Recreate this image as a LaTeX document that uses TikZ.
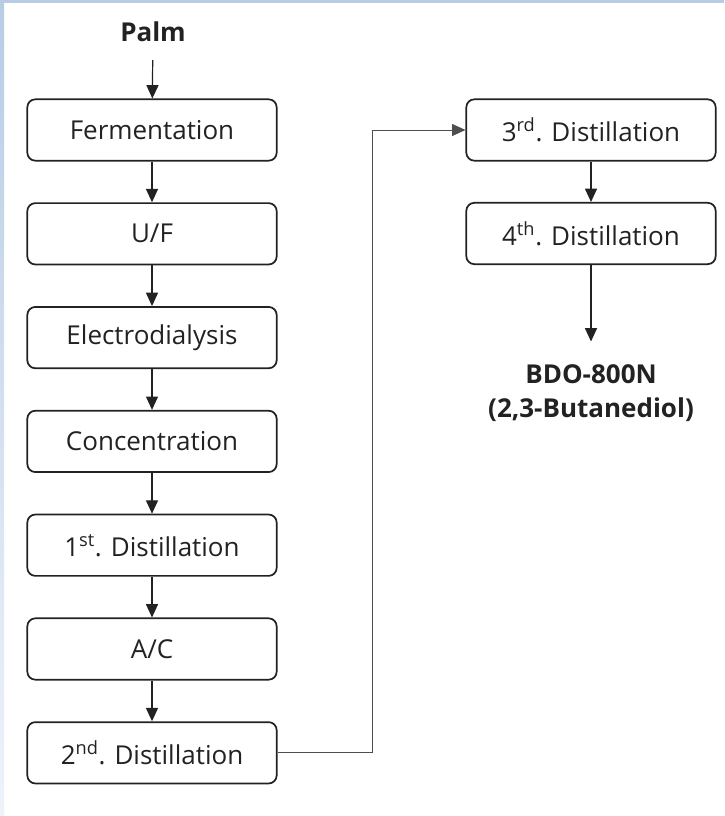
\documentclass[tikz,border=0pt]{standalone}
\usepackage{xcolor}
\usepackage{fontspec}
\setmainfont{Open Sans}
\usetikzlibrary{arrows.meta}
\definecolor{frameblue}{HTML}{B8CCE6}
\definecolor{framefade}{HTML}{EEF3FA}
\definecolor{ink}{HTML}{222222}

\begin{document}
\begin{tikzpicture}[x=0.75pt, y=-0.75pt,
    stage/.style={draw=ink, line width=1.3pt, rounded corners=6pt, fill=white,
        minimum width=187pt, minimum height=46pt, inner sep=0pt,
        font=\fontsize{19.5}{23}\selectfont, text=ink},
    flow/.style={draw=ink, line width=0.9pt, -{Triangle[length=10pt, width=9pt]}},
    link/.style={draw=ink!80, line width=0.6pt, -{Triangle[length=10pt, width=9pt]}},
    label/.style={font=\bfseries\fontsize{19.5}{25}\selectfont, text=ink, align=center}]
\useasboundingbox (0,0) rectangle (724,816);

% Frame
\fill[white] (0,0) rectangle (724,816);
\fill[frameblue] (0,0) rectangle (724,3);
\shade[top color=frameblue, bottom color=framefade] (0,0) rectangle (4,816);

% Input
\node[label] (palm) at (153,32) {Palm};

% Left column
\foreach \i/\txt in {1/Fermentation, 2/{U/F}, 3/Electrodialysis, 4/Concentration,
    5/{1\textsuperscript{st}. Distillation}, 6/{A/C}, 7/{2\textsuperscript{nd}. Distillation}} {
    \node[stage] (s\i) at (152,{130+(\i-1)*103.8}) {\txt};
}

% Right column
\node[stage] (r1) at (591,130) {3\textsuperscript{rd}. Distillation};
\node[stage] (r2) at (591,233.5) {4\textsuperscript{th}. Distillation};

% Product
\node[label] (bdo) at (591,393) {BDO-800N\\(2,3-Butanediol)};

% Arrows
\draw[flow, shorten <=10pt] (palm) -- (s1);
\foreach \a/\b in {s1/s2, s2/s3, s3/s4, s4/s5, s5/s6, s6/s7, r1/r2} {
    \draw[flow] (\a) -- (\b);
}
\draw[flow, shorten >=14pt] (r2) -- (bdo);

% Cross-over
\coordinate (turn) at (372,130);
\draw[link] (s7.east) -| (turn) -- (r1.west);
\end{tikzpicture}
\end{document}
